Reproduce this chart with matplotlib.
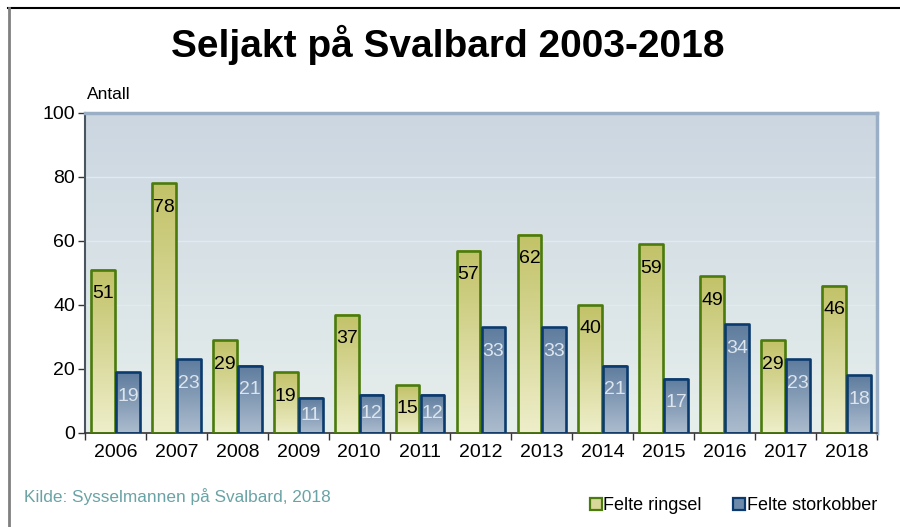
import numpy as np
import matplotlib
matplotlib.use("Agg")
import matplotlib.pyplot as plt
from matplotlib.patches import Patch, Rectangle
from matplotlib.lines import Line2D

plt.rcParams['font.family'] = ['Liberation Sans', 'DejaVu Sans']

years = ['2006', '2007', '2008', '2009', '2010', '2011', '2012',
         '2013', '2014', '2015', '2016', '2017', '2018']
ringsel = [51, 78, 29, 19, 37, 15, 57, 62, 40, 59, 49, 29, 46]
storkobber = [19, 23, 21, 11, 12, 12, 33, 33, 21, 17, 34, 23, 18]
series_names = ['Felte ringsel', 'Felte storkobber']
title = 'Seljakt på Svalbard 2003-2018'
source = 'Kilde: Sysselmannen på Svalbard, 2018'
ylabel = 'Antall'

fig = plt.figure(figsize=(9, 5.27), dpi=100)
ax = fig.add_axes([0.0944, 0.1784, 0.88, 0.6072])

# background gradient
bg_top = np.array([203, 214, 225]) / 255
bg_bot = np.array([231, 239, 236]) / 255
t = np.linspace(0, 1, 256)[:, None]
bg = bg_top * (1 - t[..., None]) + bg_bot * t[..., None]
ax.imshow(bg, extent=(0, 1, 0, 1), transform=ax.transAxes, aspect='auto',
          zorder=0, interpolation='bilinear')

def grad_bar(x0, w, h, top, bot, edge):
    g = np.linspace(0, 1, 128)[:, None]
    top = np.array(top) / 255
    bot = np.array(bot) / 255
    img = top * (1 - g[..., None]) + bot * g[..., None]
    ax.imshow(img, extent=(x0, x0 + w, 0, h), aspect='auto', zorder=2,
              interpolation='bilinear')
    ax.add_patch(Rectangle((x0, 0), w, h, facecolor='none', edgecolor=edge,
                           linewidth=1.9, zorder=3, joinstyle='round'))

w = 0.39
gap = 0.02
green_top, green_bot, green_edge = (194, 194, 104), (238, 238, 202), '#4B7B0C'
blue_top, blue_bot, blue_edge = (94, 124, 158), (172, 188, 206), '#0B3B6E'

for i, (r, s) in enumerate(zip(ringsel, storkobber)):
    xg = i - w - gap / 2
    xb = i + gap / 2
    grad_bar(xg, w, r, green_top, green_bot, green_edge)
    grad_bar(xb, w, s, blue_top, blue_bot, blue_edge)
    ax.text(xg + w / 2, max(r - 7.5, r / 2), str(r), ha='center', va='center',
            fontsize=14, color='black', zorder=4)
    ax.text(xb + w / 2, max(s - 7.5, s / 2), str(s), ha='center', va='center',
            fontsize=14, color='#DCE5EE', zorder=4)

ax.set_aspect('auto')
ax.set_xlim(-0.5, len(years) - 0.5)
ax.set_ylim(0, 100)

# grid
for yv in [20, 40, 60, 80]:
    ax.axhline(yv, color='#E2EAF0', linewidth=1.0, zorder=1)

ax.set_yticks([0, 20, 40, 60, 80, 100])
ax.set_yticklabels(['0', '20', '40', '60', '80', '100'], fontsize=14)
ax.set_xticks(range(len(years)))
ax.set_xticklabels(years, fontsize=14)
ax.set_xticks(np.arange(-0.5, len(years), 1), minor=True)
ax.tick_params(axis='x', which='major', length=0, pad=8)
ax.tick_params(axis='x', which='minor', length=5, width=1, color='#333333')
ax.tick_params(axis='y', length=5, width=1, color='#333333', pad=2)

for side in ['top', 'right']:
    ax.spines[side].set_color('#9AAFC6')
    ax.spines[side].set_linewidth(2.5)
ax.spines['left'].set_color('#4A5560')
ax.spines['left'].set_linewidth(1.5)
ax.spines['bottom'].set_color('#333333')
ax.spines['bottom'].set_linewidth(1.2)

fig.text(0.497, 0.915, title, ha='center', va='center', fontsize=28,
         fontweight='bold')
fig.text(0.097, 0.820, ylabel, ha='left', va='center', fontsize=12.5)
fig.text(0.027, 0.057, source, ha='left', va='center', fontsize=12.4,
         color='#6AA3A5')

handles = [Patch(facecolor='#D8D89A', edgecolor=green_edge, linewidth=1.6),
           Patch(facecolor='#6E8AAA', edgecolor=blue_edge, linewidth=1.6)]
fig.legend(handles, series_names, loc='center', bbox_to_anchor=(0.815, 0.040),
           ncol=2, frameon=False, fontsize=13, handlelength=0.65,
           handleheight=0.65, handletextpad=0.1, columnspacing=1.75)

# outer frame
fig.add_artist(Line2D([0.009, 1.0], [0.984, 0.984], transform=fig.transFigure,
                      color='black', linewidth=1.5))
fig.add_artist(Line2D([0.010, 0.010], [0.0, 0.984], transform=fig.transFigure,
                      color='#808080', linewidth=2))

fig.savefig('out.png', dpi=100)
